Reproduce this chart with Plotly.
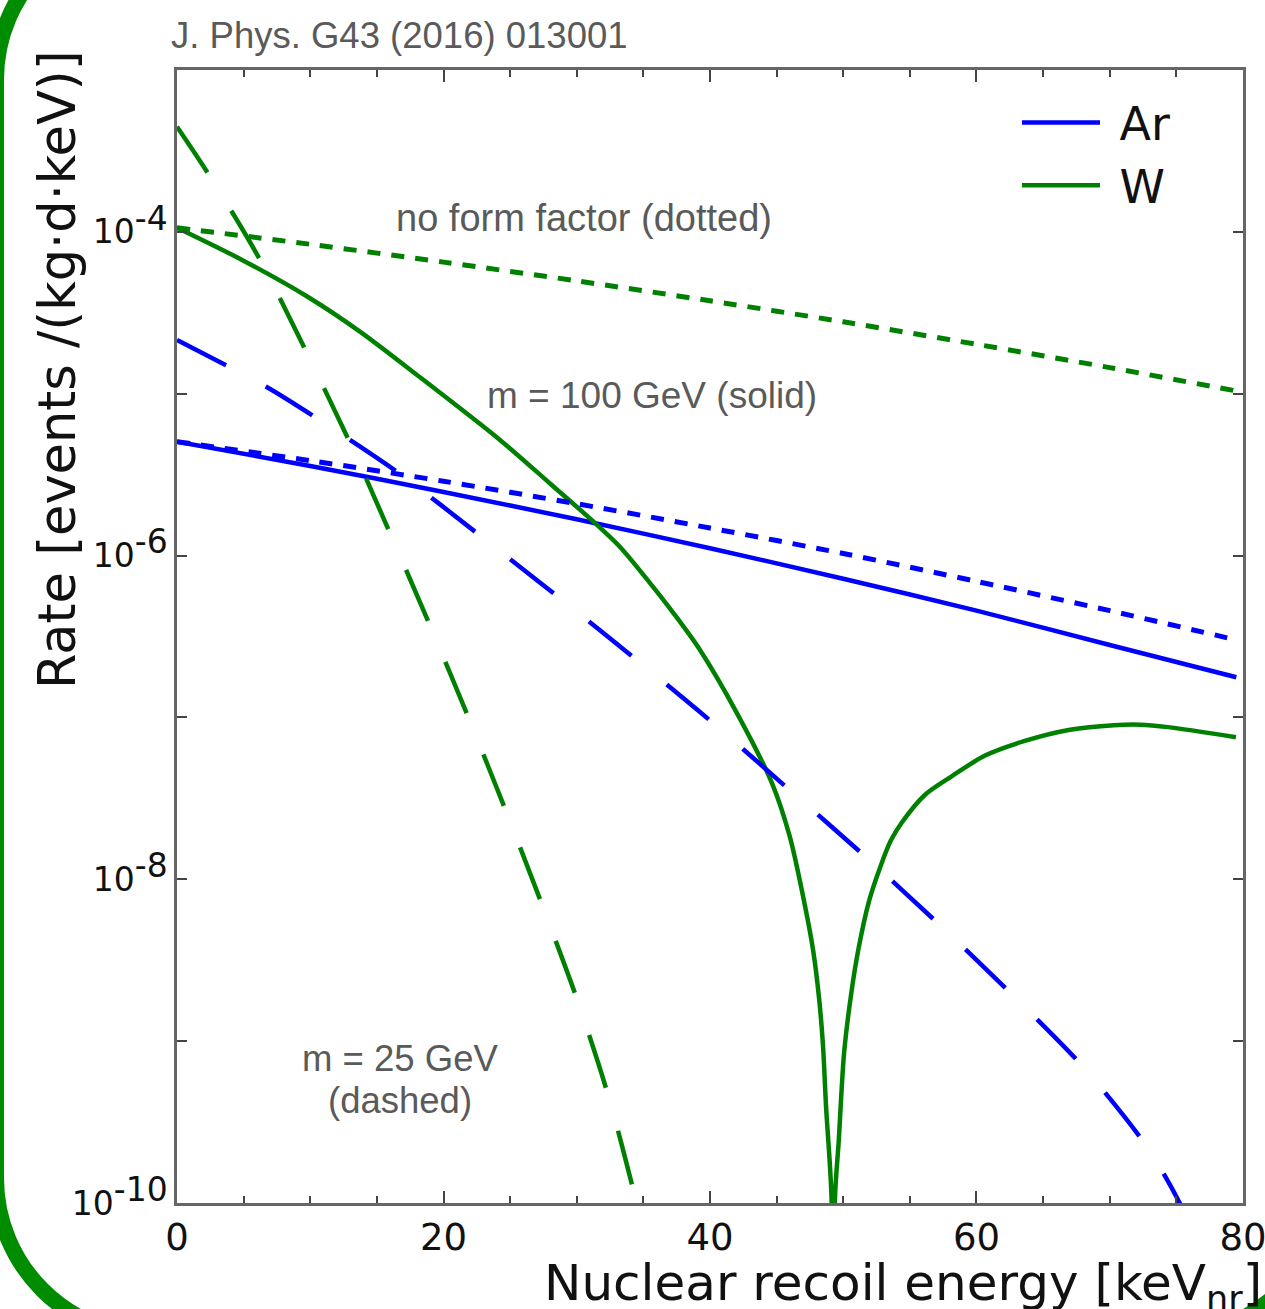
import plotly.graph_objects as go

# ---------------- data ----------------
E_ar_solid = [0, 10, 20, 30, 40, 50, 60, 70, 79.5]
R_ar_solid = [5.05e-6, 3.58e-6, 2.47e-6, 1.675e-6, 1.11e-6, 7.19e-7, 4.57e-7, 2.80e-7, 1.77e-7]

E_ar_dotted = [0, 10, 20, 30, 40, 50, 60, 70, 79.5]
R_ar_dotted = [5.05e-6, 3.86e-6, 2.88e-6, 2.09e-6, 1.48e-6, 1.03e-6, 6.93e-7, 4.57e-7, 3.01e-7]

E_ar_dashed = [0, 6.73, 10.23, 16.49, 22.59, 31.74, 39.25, 46.0, 51.71, 57.26, 62.78, 68.07,
               72.80, 75.27, 78.0]
R_ar_dashed = [2.15e-5, 1.10e-5, 7.28e-6, 3.30e-6, 1.36e-6, 3.46e-7, 1.08e-7, 3.55e-8, 1.37e-8,
               5.20e-9, 1.90e-9, 6.84e-10, 2.22e-10, 9.93e-11, 3.16e-11]

E_w_solid = [0, 4.88, 9.83, 13.73, 17.99, 24.24, 27.99, 31.22, 33.25, 35.5, 37.37, 39.25, 42.03,
             44.65, 46.0, 47.09, 47.74, 48.18, 48.48, 48.71, 49.12, 49.25,
             49.38, 49.66, 50.06, 50.60, 51.15, 51.93, 52.76, 53.58, 54.41, 56.14, 58.16, 60.64,
             63.56, 67.02, 70.32, 72.27, 74.37, 79.47]
R_w_solid = [1.06e-4, 6.71e-5, 3.96e-5, 2.42e-5, 1.31e-5, 5.18e-6, 2.79e-6, 1.63e-6, 1.13e-6,
             6.76e-7, 4.29e-7, 2.61e-7, 1.06e-7, 3.93e-8, 1.82e-8, 7.11e-9, 3.64e-9, 1.86e-9,
             9.42e-10, 3.94e-10, 1.08e-10, 1e-12,
             1.08e-10, 2.40e-10, 8.39e-10, 1.97e-9, 3.74e-9, 7.31e-9, 1.18e-8, 1.74e-8, 2.25e-8,
             3.33e-8, 4.34e-8, 5.81e-8, 7.13e-8, 8.39e-8, 8.95e-8, 9.02e-8, 8.71e-8, 7.55e-8]

E_w_dotted = [0, 10, 20, 30, 40, 50, 60, 70, 79.5]
R_w_dotted = [1.06e-4, 8.38e-5, 6.50e-5, 4.98e-5, 3.75e-5, 2.78e-5, 2.02e-5, 1.45e-5, 1.04e-5]

E_w_dashed = [0, 2.25, 6.15, 12.91, 15.98, 18.99, 21.91, 24.74, 27.46, 30.09, 32.42, 34.37, 36.0]
R_w_dashed = [4.46e-4, 2.35e-4, 6.90e-5, 5.13e-6, 1.38e-6, 3.69e-7, 9.82e-8, 2.57e-8, 6.75e-9,
              1.75e-9, 4.45e-10, 1.10e-10, 3.16e-11]

x_tick_vals = [0, 20, 40, 60, 80]
y_label_exps = [-10, -8, -6, -4]
y_minor_exps = [-9, -7, -5, -3]

# ---------------- layout geometry ----------------
W, H = 1265, 1309
ML, MR, MT, MB = 177, 22, 70, 106
PW, PH = W - ML - MR, H - MT - MB

def px(x):
    return (x - ML) / PW

def py(y):
    return (H - MB - y) / PH

BLUE = "#0000ff"
GREEN = "#008000"
LW = 4.5
DASH = "55px,45px"
DOT = "13px,11px"

def ln(color, width, dash="solid"):
    return dict(color=color, width=width, dash=dash, shape="spline", smoothing=0.8)

fig = go.Figure()
fig.add_trace(go.Scatter(x=E_ar_solid, y=R_ar_solid, mode="lines", name="\u00a0Ar",
                         line=ln(BLUE, LW)))
fig.add_trace(go.Scatter(x=E_w_solid, y=R_w_solid, mode="lines", name="\u00a0W",
                         line=ln(GREEN, LW)))
fig.add_trace(go.Scatter(x=E_ar_dotted, y=R_ar_dotted, mode="lines", showlegend=False,
                         line=ln(BLUE, 5, DOT)))
fig.add_trace(go.Scatter(x=E_w_dotted, y=R_w_dotted, mode="lines", showlegend=False,
                         line=ln(GREEN, 5, DOT)))
fig.add_trace(go.Scatter(x=E_ar_dashed, y=R_ar_dashed, mode="lines", showlegend=False,
                         line=ln(BLUE, LW, DASH)))
fig.add_trace(go.Scatter(x=E_w_dashed, y=R_w_dashed, mode="lines", showlegend=False,
                         line=ln(GREEN, LW, DASH)))

ytickvals = [10.0 ** e for e in y_label_exps]
yticktext = ["10<sup><span style=\"font-size:33px\">%d</span></sup>" % e for e in y_label_exps]
yminorvals = [10.0 ** e for e in y_minor_exps]

AXC = "#666666"
TKC = "#444444"
fig.update_xaxes(range=[0, 80.001], tickvals=x_tick_vals, ticks="inside", ticklen=12, tickwidth=2,
                 tickcolor=TKC, showline=True, linecolor=AXC, linewidth=2.5, mirror="ticks",
                 showgrid=False, zeroline=False, automargin=False, ticklabeloverflow="allow",
                 tickfont=dict(family="DejaVu Sans", size=37, color="#111111"),
                 minor=dict(dtick=5, ticks="inside", ticklen=7, tickwidth=1.5, tickcolor=TKC,
                            showgrid=False))
fig.update_yaxes(type="log", range=[-10, -3], tickvals=ytickvals, ticktext=yticktext,
                 ticks="inside", ticklen=10, tickwidth=2, tickcolor=TKC,
                 showline=True, linecolor=AXC, linewidth=2.5, mirror="ticks",
                 showgrid=False, zeroline=False, automargin=False, ticklabeloverflow="allow",
                 tickfont=dict(family="DejaVu Sans", size=33, color="#111111"),
                 minor=dict(tickvals=yminorvals, ticks="inside", ticklen=10, tickwidth=2,
                            tickcolor=TKC, showgrid=False))

GRAY = "#5a5a5a"
annotations = [
    dict(text="J. Phys. G43 (2016) 013001", x=px(169), y=py(36), xanchor="left", yanchor="middle",
         font=dict(family="Liberation Sans", size=36.5, color=GRAY)),
    dict(text="no form factor (dotted)", x=px(584), y=py(218), xanchor="center", yanchor="middle",
         font=dict(family="Liberation Sans", size=38, color=GRAY)),
    dict(text="m = 100 GeV (solid)", x=px(652), y=py(395), xanchor="center", yanchor="middle",
         font=dict(family="Liberation Sans", size=37, color=GRAY)),
    dict(text="m = 25 GeV", x=px(400), y=py(1058), xanchor="center", yanchor="middle",
         font=dict(family="Liberation Sans", size=36.5, color=GRAY)),
    dict(text="(dashed)", x=px(400), y=py(1100), xanchor="center", yanchor="middle",
         font=dict(family="Liberation Sans", size=36.5, color=GRAY)),
    dict(text="Nuclear recoil energy [keV<sub>nr</sub>]", x=px(1264), y=py(1286), xanchor="right",
         yanchor="middle", font=dict(family="DejaVu Sans", size=50, color="#111111")),
    dict(text="Rate [events /(kg\u00b7d\u00b7keV)]", x=px(58), y=py(370), xanchor="center",
         yanchor="middle", textangle=-90,
         font=dict(family="DejaVu Sans", size=51, color="#111111")),
]
for a in annotations:
    a.update(xref="paper", yref="paper", showarrow=False)

# rounded green frame of the slide (partially visible)
L, T, Rr, B, r = -4, -78, 1328, 1336, 158
k = 0.5523 * r
def P(x, y):
    return "%.5f,%.5f" % (px(x), py(y))
path = ("M " + P(L + r, T) + " L " + P(Rr - r, T) +
        " C " + P(Rr - r + k, T) + " " + P(Rr, T + r - k) + " " + P(Rr, T + r) +
        " L " + P(Rr, B - r) +
        " C " + P(Rr, B - r + k) + " " + P(Rr - r + k, B) + " " + P(Rr - r, B) +
        " L " + P(L + r, B) +
        " C " + P(L + r - k, B) + " " + P(L, B - r + k) + " " + P(L, B - r) +
        " L " + P(L, T + r) +
        " C " + P(L, T + r - k) + " " + P(L + r - k, T) + " " + P(L + r, T) + " Z")

fig.update_layout(
    width=W, height=H,
    margin=dict(l=ML, r=MR, t=MT, b=MB, pad=0),
    paper_bgcolor="white", plot_bgcolor="white",
    showlegend=True,
    legend=dict(x=px(1017), y=py(86), xanchor="left", yanchor="top",
                font=dict(family="DejaVu Sans", size=46, color="#111111"),
                bgcolor="rgba(0,0,0,0)", itemwidth=78, tracegroupgap=0),
    annotations=annotations,
    shapes=[dict(type="path", path=path, xref="paper", yref="paper",
                 line=dict(color="#008c00", width=16), fillcolor="rgba(0,0,0,0)", layer="above")],
)

fig.write_html("out.html", config={"displayModeBar": False},
               post_script="document.body.style.margin='0';document.body.style.overflow='hidden';")
